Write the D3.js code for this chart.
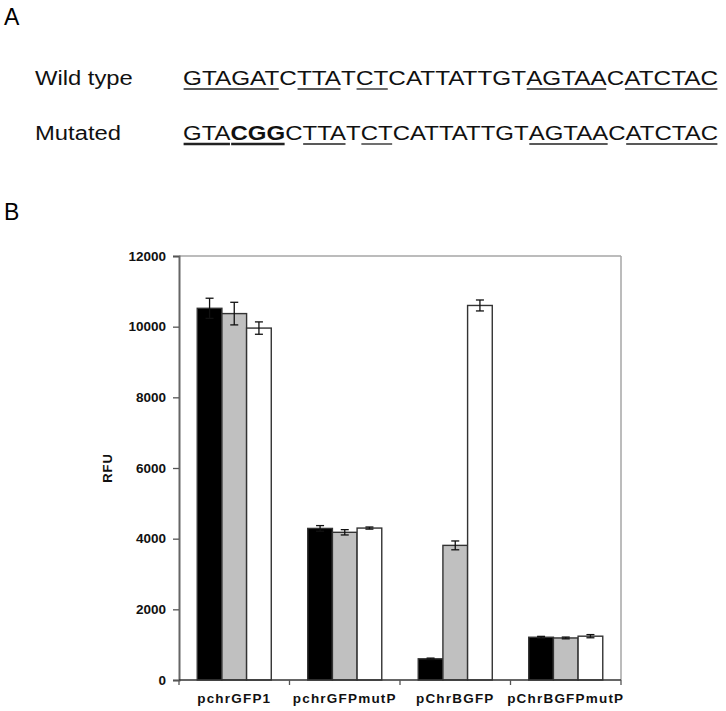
<!DOCTYPE html>
<html>
<head>
<meta charset="utf-8">
<script src="https://cdn.jsdelivr.net/npm/d3@7"></script>
<style>
  html, body { margin: 0; padding: 0; background: #fff; }
  svg { display: block; }
  text { font-family: "Liberation Sans", Arial, sans-serif; }
</style>
</head>
<body>
<svg id="fig" width="726" height="711"></svg>
<script>
// ---------- data ----------
const categories = ["pchrGFP1", "pchrGFPmutP", "pChrBGFP", "pChrBGFPmutP"];
const seriesNames = ["black", "grey", "white"];
const valuesBlack = [10520, 4290, 600, 1210];
const valuesGrey  = [10370, 4180, 3810, 1190];
const valuesWhite = [9960, 4300, 10600, 1240];
const errBlack = [285, 80, 20, 25];
const errGrey  = [320, 75, 125, 25];
const errWhite = [175, 30, 155, 45];
const yTicks = [0, 2000, 4000, 6000, 8000, 10000, 12000];
const yLabel = "RFU";

// sequence rows: text segments, underline flag, bold flag
const rowLabels = ["Wild type", "Mutated"];
const wildSeq = [
  {t: "GTAGAT", u: 1}, {t: "C", u: 0}, {t: "TTA", u: 1}, {t: "T", u: 0},
  {t: "CT", u: 1}, {t: "CATTATTGT", u: 0}, {t: "AGTAA", u: 1}, {t: "C", u: 0},
  {t: "ATCTAC", u: 1}
];
const mutSeq = [
  {t: "GTA", u: 2}, {t: "CGG", u: 2, b: 1}, {t: "C", u: 0}, {t: "TTA", u: 1}, {t: "T", u: 0},
  {t: "CT", u: 1}, {t: "CATTATTGT", u: 0}, {t: "AGTAA", u: 1}, {t: "C", u: 0},
  {t: "ATCTAC", u: 1}
];

const svg = d3.select("#fig");

// ---------- panel A ----------
svg.append("text").attr("x", 4).attr("y", 25).attr("font-size", 23).text("A");
svg.append("text").attr("x", 4).attr("y", 220).attr("font-size", 23).text("B");

const stretch = 1.19;
function drawRow(label, segs, baseline) {
  const lg = svg.append("g").attr("transform", `translate(35,${baseline}) scale(${stretch},1)`);
  lg.append("text").attr("font-size", 20).attr("fill", "#111").text(label);

  const g = svg.append("g");
  let x = 0;
  const placed = [];
  segs.forEach(s => {
    const t = g.append("text").attr("x", x).attr("y", 0).attr("font-size", 20)
      .attr("fill", "#111").attr("font-weight", s.b ? "bold" : "normal").text(s.t);
    const w = t.node().getComputedTextLength();
    placed.push({x, w, s});
    x += w;
  });
  const total = x;
  const sc = 535 / total;
  g.attr("transform", `translate(183,${baseline}) scale(${sc},1)`);
  placed.forEach(p => {
    if (p.s.u) {
      g.append("line").attr("x1", p.x + 0.5).attr("x2", p.x + p.w - 0.5)
        .attr("y1", 4).attr("y2", 4)
        .attr("stroke", "#222").attr("stroke-width", p.s.u === 2 ? 2.6 : 1.3);
    }
  });
}
drawRow(rowLabels[0], wildSeq, 85);
drawRow(rowLabels[1], mutSeq, 140);

// ---------- panel B ----------
const pLeft = 179, pRight = 621, pTop = 256, pBottom = 680;
const y = d3.scaleLinear().domain([0, 12000]).range([pBottom, pTop]);
const x0 = d3.scaleBand().domain(categories).range([pLeft, pRight])
  .paddingInner(0.33).paddingOuter(0.165);
const x1 = d3.scaleBand().domain(seriesNames).range([0, x0.bandwidth()]);
const fills = {black: "#000000", grey: "#c0c0c0", white: "#ffffff"};
const vals = {black: valuesBlack, grey: valuesGrey, white: valuesWhite};
const errs = {black: errBlack, grey: errGrey, white: errWhite};

// plot frame: top and right
svg.append("line").attr("x1", pLeft).attr("x2", pRight).attr("y1", pTop).attr("y2", pTop)
  .attr("stroke", "#a6a6a6").attr("stroke-width", 1.5);
svg.append("line").attr("x1", pRight).attr("x2", pRight).attr("y1", pTop).attr("y2", pBottom)
  .attr("stroke", "#a6a6a6").attr("stroke-width", 1.5);

// bars
const data = [];
categories.forEach((c, i) => seriesNames.forEach(s => data.push({c, s, v: vals[s][i], e: errs[s][i]})));
const bars = svg.append("g");
bars.selectAll("rect").data(data).join("rect")
  .attr("x", d => x0(d.c) + x1(d.s))
  .attr("y", d => y(d.v))
  .attr("width", x1.bandwidth())
  .attr("height", d => y(0) - y(d.v))
  .attr("fill", d => fills[d.s])
  .attr("stroke", "#333").attr("stroke-width", 1.4);

// error bars
const eg = svg.append("g").attr("stroke", "#111").attr("stroke-width", 1.3);
data.forEach(d => {
  const cx = x0(d.c) + x1(d.s) + x1.bandwidth() / 2;
  eg.append("line").attr("x1", cx).attr("x2", cx).attr("y1", y(d.v + d.e)).attr("y2", y(d.v - d.e));
  [d.v + d.e, d.v - d.e].forEach(v => {
    eg.append("line").attr("x1", cx - 4).attr("x2", cx + 4).attr("y1", y(v)).attr("y2", y(v));
  });
});

// y axis
const yAxis = svg.append("g").attr("transform", `translate(${pLeft},0)`)
  .call(d3.axisLeft(y).tickValues(yTicks).tickSize(6).tickPadding(7).tickFormat(d3.format("d")));
yAxis.select(".domain").attr("stroke", "#666").attr("stroke-width", 2);
yAxis.selectAll(".tick line").attr("stroke", "#555").attr("stroke-width", 1.3);
yAxis.selectAll(".tick text").attr("font-size", 13.5).attr("font-weight", "bold")
  .attr("fill", "#111").attr("font-family", "'Liberation Sans', Arial, sans-serif");

// x axis
const xTickScale = d3.scaleLinear().domain([0, categories.length]).range([pLeft, pRight]);
const xAxis = svg.append("g").attr("transform", `translate(0,${pBottom})`);
xAxis.append("line").attr("x1", pLeft).attr("x2", pRight).attr("y1", 0).attr("y2", 0)
  .attr("stroke", "#333").attr("stroke-width", 1.6);
d3.range(categories.length + 1).forEach(i => {
  xAxis.append("line").attr("x1", xTickScale(i)).attr("x2", xTickScale(i)).attr("y1", 0).attr("y2", 5)
    .attr("stroke", "#555").attr("stroke-width", 1.3);
});
xAxis.selectAll("text.cat").data(categories).join("text").attr("class", "cat")
  .attr("x", d => x0(d) + x0.bandwidth() / 2)
  .attr("y", 23)
  .attr("text-anchor", "middle")
  .attr("font-size", 13.5).attr("font-weight", "bold").attr("letter-spacing", 1.2)
  .attr("fill", "#111")
  .text(d => d);

// y label
svg.append("text").attr("transform", `translate(112,468) rotate(-90)`)
  .attr("text-anchor", "middle").attr("font-size", 13).attr("font-weight", "bold")
  .attr("letter-spacing", 1).attr("fill", "#111").text(yLabel);
</script>
</body>
</html>
